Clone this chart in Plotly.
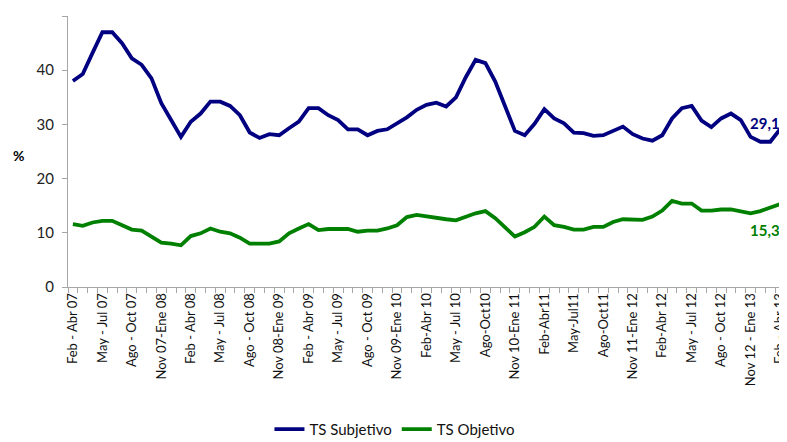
import plotly.graph_objects as go

tick_labels = ["Feb - Abr 07", "May - Jul 07", "Ago - Oct 07", "Nov 07-Ene 08",
               "Feb - Abr 08", "May - Jul 08", "Ago - Oct 08", "Nov 08-Ene 09",
               "Feb - Abr 09", "May - Jul 09", "Ago - Oct 09", "Nov 09-Ene 10",
               "Feb-Abr 10", "May - Jul 10", "Ago-Oct10", "Nov 10-Ene 11",
               "Feb-Abr11", "May-Jul11", "Ago-Oct11", "Nov 11-Ene 12",
               "Feb-Abr 12", "May - Jul 12", "Ago - Oct 12", "Nov 12 - Ene 13",
               "Feb - Abr 13"]

ts_subjetivo = [38.0, 39.3, 43.2, 47.0, 47.0, 45.0, 42.2, 41.0, 38.5, 33.9,
                30.8, 27.7, 30.5, 32.0, 34.2, 34.2, 33.4, 31.7, 28.5, 27.5,
                28.2, 28.0, 29.3, 30.5, 33.0, 33.0, 31.7, 30.8, 29.1, 29.1,
                28.0, 28.8, 29.1, 30.1, 31.3, 32.7, 33.6, 34.0, 33.3, 35.0,
                38.7, 41.9, 41.3, 37.9, 33.3, 28.8, 28.0, 30.1, 32.8, 31.1,
                30.2, 28.5, 28.4, 27.9, 28.0, 28.8, 29.6, 28.2, 27.4, 27.0,
                28.0, 31.1, 33.0, 33.4, 30.7, 29.5, 31.1, 32.0, 30.8, 27.7,
                26.8, 26.8, 29.1]

ts_objetivo = [11.6, 11.3, 11.9, 12.2, 12.2, 11.4, 10.6, 10.4, 9.3, 8.2,
               8.0, 7.7, 9.4, 9.9, 10.8, 10.2, 9.9, 9.1, 8.0, 8.0,
               8.0, 8.4, 9.9, 10.8, 11.6, 10.5, 10.7, 10.7, 10.7, 10.2,
               10.4, 10.4, 10.8, 11.4, 12.9, 13.3, 13.0, 12.8, 12.5, 12.3,
               13.0, 13.6, 14.0, 12.7, 11.0, 9.3, 10.1, 11.1, 13.0, 11.4,
               11.1, 10.6, 10.6, 11.1, 11.1, 12.0, 12.5, 12.4, 12.4, 13.0,
               14.1, 15.9, 15.4, 15.4, 14.1, 14.1, 14.3, 14.3, 13.9, 13.6,
               14.0, 14.6, 15.3]

x = list(range(len(ts_subjetivo)))
label_every = 3
tickvals = x[::label_every]

NAVY = "#000080"
GREEN = "#008000"
FONT = "Lato"

fig = go.Figure()
fig.add_trace(go.Scatter(x=x, y=ts_subjetivo, mode="lines", name="TS Subjetivo",
                         line=dict(color=NAVY, width=3.8)))
fig.add_trace(go.Scatter(x=x, y=ts_objetivo, mode="lines", name="TS Objetivo",
                         line=dict(color=GREEN, width=3.8)))

fig.add_annotation(x=x[-1], y=ts_subjetivo[-1], text="<b>29,1</b>", showarrow=False,
                   xanchor="right", yanchor="middle", xshift=2, yshift=6,
                   font=dict(family=FONT, size=15, color=NAVY))
fig.add_annotation(x=x[-1], y=ts_objetivo[-1], text="<b>15,3</b>", showarrow=False,
                   xanchor="right", yanchor="middle", xshift=2, yshift=-26,
                   font=dict(family=FONT, size=15, color=GREEN))
fig.add_annotation(xref="paper", yref="paper", x=-0.0697, y=0.487, text="<b>%</b>",
                   showarrow=False, xanchor="center", yanchor="middle",
                   font=dict(family=FONT, size=14, color="#000"))

# the page body has an 8px margin, so the figure is sized to fill the rest
fig.update_layout(
    width=779, height=434,
    margin=dict(l=60, r=2, t=8, b=155, autoexpand=False),
    paper_bgcolor="white", plot_bgcolor="white",
    font=dict(family=FONT, color="#222"),
    showlegend=True,
    legend=dict(orientation="h", x=0.456, y=-0.525, xanchor="center", yanchor="middle",
                font=dict(family=FONT, size=15, color="#111"), itemwidth=30,
                bgcolor="rgba(0,0,0,0)"),
    xaxis=dict(range=[-0.5, len(x) - 0.5], tickmode="array", tickvals=tickvals,
               ticktext=tick_labels, tickangle=-90, ticks="", showgrid=False,
               zeroline=False, showline=True, linecolor="#a6a6a6", linewidth=1,
               automargin=False, ticklabeloverflow="allow",
               tickfont=dict(family=FONT, size=13, color="#111"),
               minor=dict(tickmode="array", tickvals=[i - 0.5 for i in range(len(x) + 1)],
                          ticks="outside", ticklen=5, tickcolor="#a6a6a6", showgrid=False)),
    yaxis=dict(range=[0, 50], tickvals=[0, 10, 20, 30, 40, 50], ticks="outside",
               ticklen=5, tickcolor="#a6a6a6", showgrid=False, zeroline=False,
               showline=True, linecolor="#a6a6a6", linewidth=1, automargin=False,
               ticklabelstandoff=5,
               tickfont=dict(family=FONT, size=15, color="#222")),
)

fig.write_html("out.html")
